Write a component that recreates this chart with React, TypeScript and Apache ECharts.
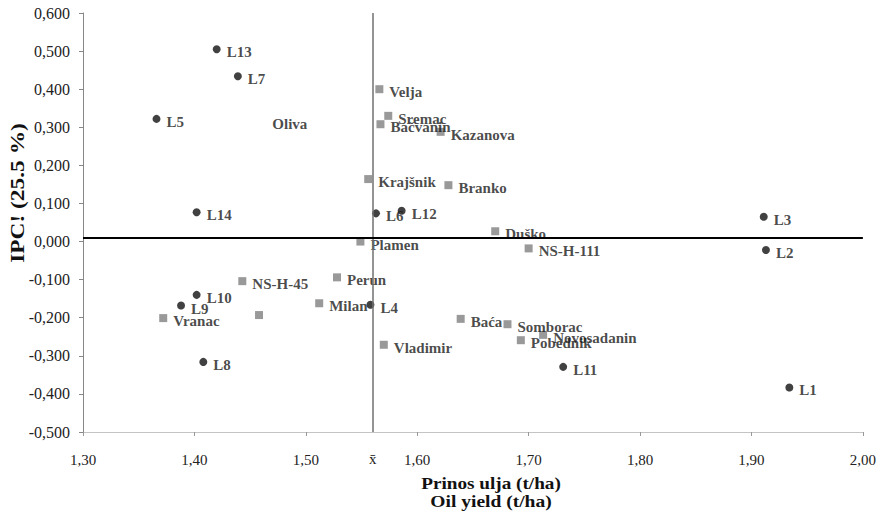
import React, { useEffect, useRef } from "react";
import * as echarts from "echarts";

// Black circles (L lines)
const circleNames = ["L13", "L7", "L5", "L14", "L6", "L12", "L3", "L2", "L10", "L9", "L4", "L8", "L11", "L1"];
const circleX = [1.420, 1.439, 1.366, 1.402, 1.563, 1.586, 1.911, 1.913, 1.402, 1.388, 1.558, 1.408, 1.731, 1.934];
const circleY = [0.505, 0.434, 0.322, 0.077, 0.074, 0.081, 0.065, -0.022, -0.140, -0.168, -0.166, -0.316, -0.329, -0.383];

// Grey squares (cultivars)
const squareNames = ["Velja", "Sremac", "Bačvanin", "Kazanova", "Krajšnik", "Branko", "Duško", "Plamen", "NS-H-111", "NS-H-45", "Perun", "Milan", "Vranac", "", "Vladimir", "Baća", "Somborac", "Novosadanin", "Pobednik"];
const squareX = [1.566, 1.574, 1.567, 1.621, 1.556, 1.628, 1.670, 1.549, 1.700, 1.443, 1.528, 1.512, 1.372, 1.458, 1.570, 1.639, 1.681, 1.713, 1.693];
const squareY = [0.400, 0.330, 0.308, 0.288, 0.164, 0.148, 0.027, 0.000, -0.018, -0.104, -0.094, -0.162, -0.201, -0.193, -0.271, -0.203, -0.217, -0.245, -0.259];

// Label without visible marker
const hiddenNames = ["Oliva"];
const hiddenX = [1.461];
const hiddenY = [0.3155];

const meanX = 1.563;
const meanY = 0.008;

const xTitle1 = "Prinos ulja (t/ha)";
const xTitle2 = "Oil yield (t/ha)";
const yTitle = "IPC! (25.5 %)";

const SERIF = '"Liberation Serif", "Times New Roman", serif';

function toData(names: string[], xs: number[], ys: number[]) {
  return names.map((n, i) => ({ name: n, value: [xs[i], ys[i]] }));
}

const pointLabel = {
  show: true,
  position: "right" as const,
  distance: 6,
  offset: [0, 3],
  formatter: (p: any) => p.name,
  fontFamily: SERIF,
  fontWeight: "bold" as const,
  fontSize: 15,
  color: "#1a1a1a",
};

export default function App() {
  const ref = useRef<HTMLDivElement>(null);
  useEffect(() => {
    if (!ref.current) return;
    const chart = echarts.init(ref.current, null, { renderer: "svg" });
    chart.setOption({
      animation: false,
      backgroundColor: "#ffffff",
      grid: { left: 83, right: 14, top: 13, bottom: 79, containLabel: false },
      xAxis: {
        type: "value",
        min: 1.3,
        max: 2.0,
        interval: 0.1,
        splitLine: { show: false },
        axisLine: { show: true, onZero: false, lineStyle: { color: "#c4c4c4", width: 1 } },
        axisTick: { show: true, length: 4, lineStyle: { color: "#999" } },
        axisLabel: {
          margin: 20,
          fontFamily: SERIF,
          fontSize: 15,
          color: "#222",
          formatter: (v: number) => v.toFixed(2).replace(".", ","),
        },
      },
      yAxis: {
        type: "value",
        min: -0.5,
        max: 0.6,
        interval: 0.1,
        splitLine: { show: false },
        axisLine: { show: true, onZero: false, lineStyle: { color: "#888", width: 1 } },
        axisTick: { show: true, length: 4, lineStyle: { color: "#888" } },
        axisLabel: {
          margin: 13,
          fontFamily: SERIF,
          fontSize: 16,
          color: "#222",
          formatter: (v: number) => (Math.abs(v) < 1e-9 ? 0 : v).toFixed(3).replace(".", ","),
        },
      },
      series: [
        {
          type: "scatter",
          name: "cultivars",
          symbol: "rect",
          symbolSize: 8,
          itemStyle: { color: "#808080" },
          label: pointLabel,
          data: toData(squareNames, squareX, squareY),
          z: 2,
          markLine: {
            silent: true,
            symbol: "none",
            z: 5,
            data: [
              {
                xAxis: meanX,
                lineStyle: { color: "#707070", width: 1.5, type: "solid" },
                label: {
                  show: true,
                  position: "start",
                  distance: 19,
                  formatter: "x\u0304",
                  fontFamily: SERIF,
                  fontSize: 15,
                  color: "#222",
                },
              },
              {
                yAxis: meanY,
                lineStyle: { color: "#000", width: 2, type: "solid" },
                label: { show: false },
              },
            ],
          },
        },
        {
          type: "scatter",
          name: "lines",
          symbol: "circle",
          symbolSize: 8,
          itemStyle: { color: "#111" },
          label: pointLabel,
          data: toData(circleNames, circleX, circleY),
          z: 3,
        },
        {
          type: "scatter",
          name: "hidden",
          symbol: "circle",
          symbolSize: 8,
          itemStyle: { color: "rgba(0,0,0,0)" },
          label: pointLabel,
          data: toData(hiddenNames, hiddenX, hiddenY),
          z: 3,
        },
      ],
      graphic: [
        {
          type: "text",
          x: 491,
          y: 484,
          scaleX: 1.2,
          style: {
            text: xTitle1,
            font: `bold 16px ${SERIF}`,
            fill: "#111",
            textAlign: "center",
            textVerticalAlign: "middle",
            align: "center",
            verticalAlign: "middle",
          },
        },
        {
          type: "text",
          x: 491,
          y: 502,
          scaleX: 1.22,
          style: {
            text: xTitle2,
            font: `bold 16px ${SERIF}`,
            fill: "#111",
            textAlign: "center",
            textVerticalAlign: "middle",
            align: "center",
            verticalAlign: "middle",
          },
        },
        {
          type: "text",
          x: 18,
          y: 193,
          rotation: Math.PI / 2,
          scaleX: 1.3,
          style: {
            text: yTitle,
            font: `bold 18px ${SERIF}`,
            fill: "#111",
            textAlign: "center",
            textVerticalAlign: "middle",
            align: "center",
            verticalAlign: "middle",
          },
        },
      ],
    });
    return () => chart.dispose();
  }, []);
  return <div ref={ref} style={{ width: 879, height: 511, position: "absolute", left: 0, top: 0 }} />;
}
